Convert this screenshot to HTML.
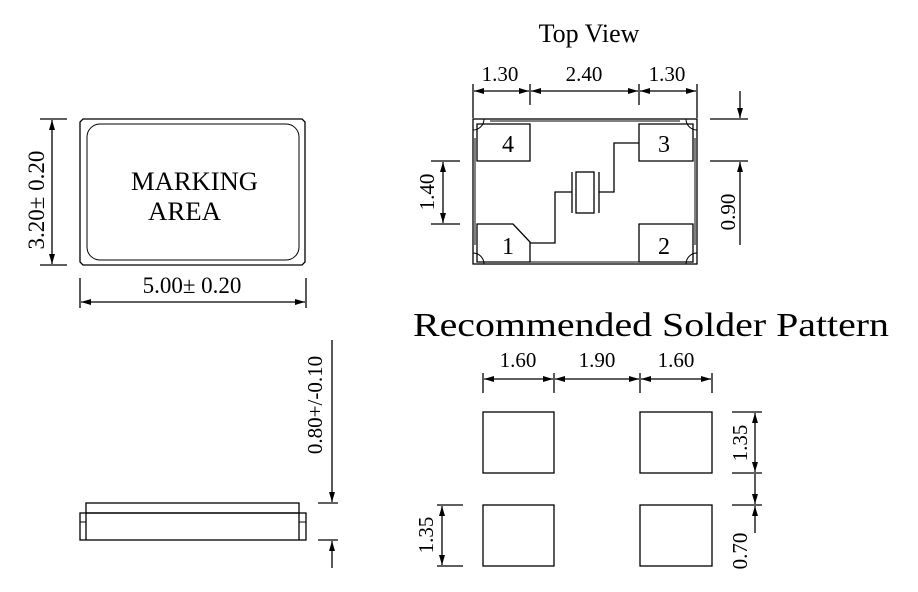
<!DOCTYPE html>
<html><head><meta charset="utf-8"><style>html,body{margin:0;padding:0;background:#fff}svg{display:block}</style></head><body>
<svg width="918" height="592" viewBox="0 0 918 592" xmlns="http://www.w3.org/2000/svg" font-family="'Liberation Serif', serif" fill="none" stroke="#000" stroke-width="1.3">
<defs>
<marker id="a" viewBox="0 0 10 6" refX="10" refY="3" markerWidth="10" markerHeight="6" orient="auto-start-reverse" markerUnits="userSpaceOnUse"><path d="M0,0 L10,3 L0,6 z" fill="#000" stroke="none"/></marker>
</defs>
<!-- top-left body -->
<path d="M83,119 H302 L305,122 V262 L302,265 H83 L80,262 V122 Z"/>
<rect x="87" y="124" width="212" height="136" rx="13" stroke-width="1"/>
<g fill="#000" stroke="none" font-size="26">
<text x="131" y="190" textLength="127" lengthAdjust="spacingAndGlyphs">MARKING</text>
<text x="148" y="220" textLength="73" lengthAdjust="spacingAndGlyphs">AREA</text>
</g>
<line x1="40" y1="119" x2="67" y2="119"/><line x1="40" y1="265" x2="67" y2="265"/>
<line x1="52" y1="120" x2="52" y2="264" marker-start="url(#a)" marker-end="url(#a)"/>
<text transform="translate(44,200) rotate(-90)" text-anchor="middle" fill="#000" stroke="none" font-size="23">3.20± 0.20</text>
<line x1="80" y1="278" x2="80" y2="308"/><line x1="306" y1="278" x2="306" y2="308"/>
<line x1="81" y1="302" x2="305" y2="302" marker-start="url(#a)" marker-end="url(#a)"/>
<text x="192" y="293" text-anchor="middle" fill="#000" stroke="none" font-size="23">5.00± 0.20</text>

<!-- top view -->
<text x="589" y="42" text-anchor="middle" fill="#000" stroke="none" font-size="26">Top View</text>
<g fill="#000" stroke="none" font-size="21" text-anchor="middle">
<text x="500" y="81">1.30</text><text x="584" y="81">2.40</text><text x="667" y="81">1.30</text>
</g>
<line x1="473" y1="84" x2="473" y2="118"/><line x1="530" y1="84" x2="530" y2="105"/><line x1="639" y1="84" x2="639" y2="105"/><line x1="697" y1="84" x2="697" y2="118"/>
<line x1="474" y1="91" x2="529" y2="91" marker-start="url(#a)" marker-end="url(#a)"/>
<line x1="531" y1="91" x2="638" y2="91" marker-start="url(#a)" marker-end="url(#a)"/>
<line x1="640" y1="91" x2="696" y2="91" marker-start="url(#a)" marker-end="url(#a)"/>
<rect x="473" y="119" width="224" height="145"/>
<line x1="490" y1="121" x2="680" y2="121" stroke-width="1"/>
<line x1="490" y1="262" x2="680" y2="262" stroke-width="1"/>
<line x1="475" y1="138" x2="475" y2="245" stroke-width="1"/>
<line x1="695" y1="138" x2="695" y2="245" stroke-width="1"/>
<path d="M473,130 A11,11 0 0 0 484,119 M697,130 A11,11 0 0 1 686,119 M473,253 A11,11 0 0 1 484,264 M697,253 A11,11 0 0 0 686,264" stroke-width="1"/>
<path d="M477,124 H530 V161 H477 Z"/>
<path d="M639,124 H693 V161 H639 Z"/>
<path d="M477,224 H513 L530,242 V262 H477 Z"/>
<path d="M639,224 H693 V262 H639 Z"/>
<g fill="#000" stroke="none" font-size="24" text-anchor="middle">
<text x="508" y="152">4</text><text x="664" y="152">3</text><text x="508" y="254">1</text><text x="664" y="254">2</text>
</g>
<line x1="572" y1="172" x2="572" y2="213"/><line x1="599" y1="172" x2="599" y2="213"/>
<rect x="576" y="172" width="18" height="41"/>
<polyline points="530,243 555,243 555,192 572,192"/>
<polyline points="599,192 614,192 614,143 639,143"/>
<line x1="431" y1="161" x2="460" y2="161"/><line x1="431" y1="224" x2="460" y2="224"/>
<line x1="443" y1="162" x2="443" y2="223" marker-start="url(#a)" marker-end="url(#a)"/>
<text transform="translate(434,192) rotate(-90)" text-anchor="middle" fill="#000" stroke="none" font-size="21">1.40</text>
<line x1="710" y1="119" x2="748" y2="119"/><line x1="710" y1="161" x2="748" y2="161"/>
<line x1="740" y1="91" x2="740" y2="118" marker-end="url(#a)"/>
<line x1="740" y1="245" x2="740" y2="162" marker-end="url(#a)"/>
<text transform="translate(735,212) rotate(-90)" text-anchor="middle" fill="#000" stroke="none" font-size="21">0.90</text>

<!-- side view -->
<rect x="86" y="503" width="213" height="10"/>
<rect x="80" y="513" width="226" height="27"/>
<line x1="86" y1="513" x2="86" y2="540"/><line x1="299" y1="513" x2="299" y2="540"/>
<line x1="80" y1="522" x2="86" y2="522" stroke-width="1"/><line x1="299" y1="522" x2="306" y2="522" stroke-width="1"/>
<line x1="318" y1="503" x2="338" y2="503"/><line x1="318" y1="540" x2="338" y2="540"/>
<line x1="332" y1="340" x2="332" y2="502" marker-end="url(#a)"/>
<line x1="332" y1="568" x2="332" y2="541" marker-end="url(#a)"/>
<text transform="translate(322,405) rotate(-90)" text-anchor="middle" fill="#000" stroke="none" font-size="21">0.80+/-0.10</text>

<!-- solder pattern -->
<text x="413" y="336" fill="#000" stroke="none" font-size="34" textLength="476" lengthAdjust="spacingAndGlyphs">Recommended Solder Pattern</text>
<g fill="#000" stroke="none" font-size="21" text-anchor="middle">
<text x="518" y="367">1.60</text><text x="597" y="367">1.90</text><text x="676" y="367">1.60</text>
</g>
<line x1="483" y1="373" x2="483" y2="393"/><line x1="554" y1="373" x2="554" y2="393"/><line x1="640" y1="373" x2="640" y2="393"/><line x1="712" y1="373" x2="712" y2="393"/>
<line x1="484" y1="379" x2="553" y2="379" marker-start="url(#a)" marker-end="url(#a)"/>
<line x1="555" y1="379" x2="639" y2="379" marker-start="url(#a)" marker-end="url(#a)"/>
<line x1="641" y1="379" x2="711" y2="379" marker-start="url(#a)" marker-end="url(#a)"/>
<rect x="483" y="412" width="71" height="61"/><rect x="640" y="412" width="72" height="61"/>
<rect x="483" y="505" width="71" height="61"/><rect x="640" y="505" width="72" height="61"/>
<line x1="732" y1="412" x2="762" y2="412"/><line x1="732" y1="473" x2="762" y2="473"/><line x1="732" y1="505" x2="762" y2="505"/>
<line x1="755" y1="413" x2="755" y2="472" marker-start="url(#a)" marker-end="url(#a)"/>
<line x1="755" y1="474" x2="755" y2="504" marker-end="url(#a)"/>
<line x1="755" y1="533" x2="755" y2="506" marker-end="url(#a)"/>
<text transform="translate(747,443) rotate(-90)" text-anchor="middle" fill="#000" stroke="none" font-size="21">1.35</text>
<text transform="translate(747,551) rotate(-90)" text-anchor="middle" fill="#000" stroke="none" font-size="21">0.70</text>
<line x1="437" y1="505" x2="463" y2="505"/><line x1="437" y1="566" x2="463" y2="566"/>
<line x1="442" y1="506" x2="442" y2="565" marker-start="url(#a)" marker-end="url(#a)"/>
<text transform="translate(433,535) rotate(-90)" text-anchor="middle" fill="#000" stroke="none" font-size="21">1.35</text>
</svg>
</body></html>
